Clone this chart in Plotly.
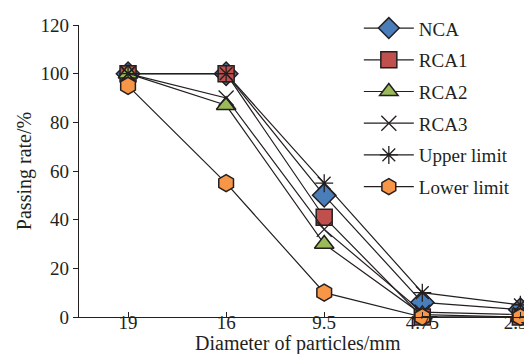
import plotly.graph_objects as go

categories = ["19", "16", "9.5", "4.75", "2.36"]
nca = [100, 100, 50, 6, 3]
rca1 = [100, 100, 41, 0, 0]
rca2 = [100, 87, 30, 1, 0]
rca3 = [100, 90, 36, 2, 1]
upper = [100, 100, 55, 10, 5]
lower = [95, 55, 10, 0, 0]

series = [
    ("NCA", nca, "diamond", "#4a7ebb", 18, 1.5),
    ("RCA1", rca1, "square", "#c0504d", 16, 1.5),
    ("RCA2", rca2, "triangle-up", "#9bbb59", 17, 1.5),
    ("RCA3", rca3, "x-thin-open", "#231f20", 15, 1.3),
    ("Upper limit", upper, "asterisk-open", "#231f20", 15, 1.3),
    ("Lower limit", lower, "hexagon", "#f79646", 17, 1.5),
]

fig = go.Figure()
for i, (name, vals, sym, col, size, lw) in enumerate(series):
    fig.add_trace(go.Scatter(
        x=categories, y=vals, name=name, mode="lines+markers",
        legendgroup=str(i),
        line=dict(color="#231f20", width=1.2),
        marker=dict(symbol=sym, size=size, color=col,
                    line=dict(color="#231f20", width=lw)),
        cliponaxis=False,
    ))

fig.add_annotation(
    text="Diameter of particles/mm", xref="paper", yref="paper",
    x=0.476, y=-0.091, xanchor="center", yanchor="middle",
    showarrow=False, font=dict(size=20),
)

fig.update_layout(
    width=532, height=354,
    margin=dict(l=71, r=0, t=17, b=45),
    paper_bgcolor="white", plot_bgcolor="white",
    font=dict(family="Liberation Serif", size=19, color="#231f20"),
    showlegend=True,
    legend=dict(x=0.607, y=1.054, xanchor="left", yanchor="top",
                bgcolor="rgba(0,0,0,0)", tracegroupgap=4,
                itemwidth=50, maxheight=340, font=dict(size=19)),
    xaxis=dict(type="category", range=[-0.5, 4.2],
               showline=True, linecolor="#231f20", linewidth=1.3,
               ticks="inside", ticklen=5, tickcolor="#231f20",
               ticklabelstandoff=-12,
               showgrid=False, zeroline=False,
               tickfont=dict(size=19)),
    yaxis=dict(range=[0, 120], dtick=20,
               showline=True, linecolor="#231f20", linewidth=1.3,
               ticks="outside", ticklen=5, tickcolor="#231f20",
               showgrid=False, zeroline=False,
               tickfont=dict(size=19),
               title=dict(text="Passing rate/%", standoff=3,
                          font=dict(size=20))),
)

fig.write_html("out.html")
